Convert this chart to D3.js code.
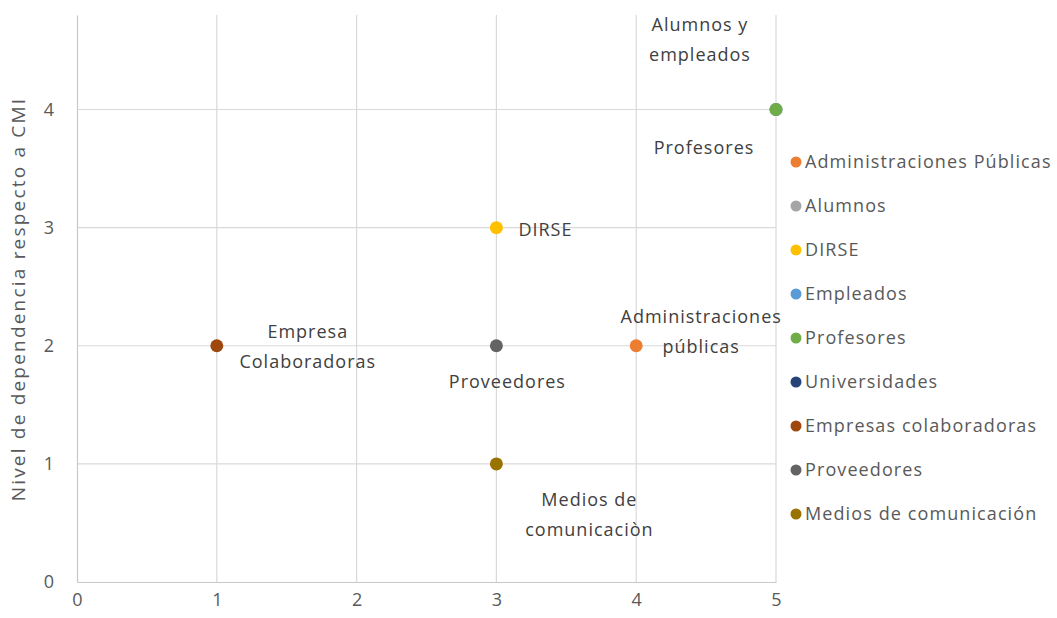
<!DOCTYPE html>
<html>
<head>
<meta charset="utf-8">
<script src="https://cdn.jsdelivr.net/npm/d3@7"></script>
<style>
  body { margin: 0; background: #fff; }
  text { font-family: "Open Sans", sans-serif; }
</style>
</head>
<body>
<script>
// series names, colours and points (x = stakeholder group, y = dependence level)
var seriesNames = ["Administraciones Públicas", "Alumnos", "DIRSE", "Empleados", "Profesores",
    "Universidades", "Empresas colaboradoras", "Proveedores", "Medios de comunicación"];
var seriesColors = ["#ED7D31", "#A5A5A5", "#FFC000", "#5B9BD5", "#70AD47",
    "#264478", "#9E480E", "#636363", "#997300"];
var seriesX = [4, 5, 3, 5, 5, null, 1, 3, 3];
var seriesY = [2, 4, 3, 4, 4, null, 2, 2, 1];

var xTicks = [0, 1, 2, 3, 4, 5];
var yTicks = [0, 1, 2, 3, 4];

// data labels placed next to points: [lines, x value, y value, dx, dy, anchor]
var labels = [
    [["Alumnos y", "empleados"], 5, 4, -76, -85, "middle"],
    [["Profesores"], 5, 4, -72, 38, "middle"],
    [["DIRSE"], 3, 3, 22, 2, "start"],
    [["Administraciones", "públicas"], 4, 2, 65, -29, "middle"],
    [["Empresa", "Colaboradoras"], 1, 2, 91, -14, "middle"],
    [["Proveedores"], 3, 2, 11, 36, "middle"],
    [["Medios de", "comunicaciòn"], 3, 1, 93, 36, "middle"]
];

var margin = { top: 15, right: 281, bottom: 36, left: 77 },
    width = 1057 - margin.left - margin.right,
    height = 618 - margin.top - margin.bottom;

var svg = d3.select("body").append("svg")
    .attr("width", 1057)
    .attr("height", 618);
var g = svg.append("g")
    .attr("transform", "translate(" + margin.left + "," + margin.top + ")");

var x = d3.scaleLinear().domain([0, 5]).range([0, width]);
var y = d3.scaleLinear().domain([0, 4.8]).range([height, 0]);

// gridlines
g.append("g").selectAll("line").data(xTicks.slice(1))
    .enter().append("line")
    .attr("x1", function (d) { return x(d); })
    .attr("x2", function (d) { return x(d); })
    .attr("y1", 0).attr("y2", height)
    .attr("stroke", "#d9d9d9").attr("stroke-width", 1.2);
g.append("g").selectAll("line").data(yTicks.slice(1))
    .enter().append("line")
    .attr("x1", 0).attr("x2", width)
    .attr("y1", function (d) { return y(d); })
    .attr("y2", function (d) { return y(d); })
    .attr("stroke", "#d9d9d9").attr("stroke-width", 1.2);

// axes
var xAxis = g.append("g")
    .attr("transform", "translate(0," + height + ")")
    .call(d3.axisBottom(x).tickValues(xTicks).tickFormat(d3.format("d")).tickSize(0).tickPadding(11));
var yAxis = g.append("g")
    .call(d3.axisLeft(y).tickValues(yTicks).tickFormat(d3.format("d")).tickSize(0).tickPadding(23));
[xAxis, yAxis].forEach(function (a) {
    a.attr("font-size", null).attr("font-family", null);
    a.select(".domain").attr("stroke", "#c8c8c8").attr("stroke-width", 1.2);
    a.selectAll("text").attr("fill", "#595959")
        .style("font-size", "18px");
});

g.append("text")
    .attr("transform", "translate(" + (-52) + "," + (y(0) - 283) + ")rotate(-90)")
    .attr("text-anchor", "middle")
    .attr("fill", "#595959")
    .style("font-size", "19px")
    .style("letter-spacing", "2.2px")
    .text("Nivel de dependencia respecto a CMI");

// points
var pts = seriesNames.map(function (n, i) {
    return { name: n, color: seriesColors[i], x: seriesX[i], y: seriesY[i] };
}).filter(function (d) { return d.x !== null; });

g.selectAll("circle.pt").data(pts)
    .enter().append("circle")
    .attr("class", "pt")
    .attr("cx", function (d) { return x(d.x); })
    .attr("cy", function (d) { return y(d.y); })
    .attr("r", 6.5)
    .attr("fill", function (d) { return d.color; });

// data labels
labels.forEach(function (l) {
    var t = g.append("text")
        .attr("x", x(l[1]) + l[3])
        .attr("y", y(l[2]) + l[4])
        .attr("text-anchor", l[5])
        .attr("fill", "#404040")
        .style("font-size", "18px")
        .style("letter-spacing", "1px");
    l[0].forEach(function (s, i) {
        t.append("tspan")
            .attr("x", x(l[1]) + l[3])
            .attr("dy", i === 0 ? "0.35em" : "30px")
            .text(s);
    });
});

// legend
var legend = svg.append("g").attr("transform", "translate(796,162)");
var items = legend.selectAll("g").data(seriesNames)
    .enter().append("g")
    .attr("transform", function (d, i) { return "translate(0," + (i * 44) + ")"; });
items.append("circle")
    .attr("r", 5.5)
    .attr("fill", function (d, i) { return seriesColors[i]; });
items.append("text")
    .attr("x", 9)
    .attr("dy", "0.35em")
    .attr("fill", "#595959")
    .style("font-size", "18px")
    .style("letter-spacing", "1.1px")
    .text(function (d) { return d; });
</script>
</body>
</html>
